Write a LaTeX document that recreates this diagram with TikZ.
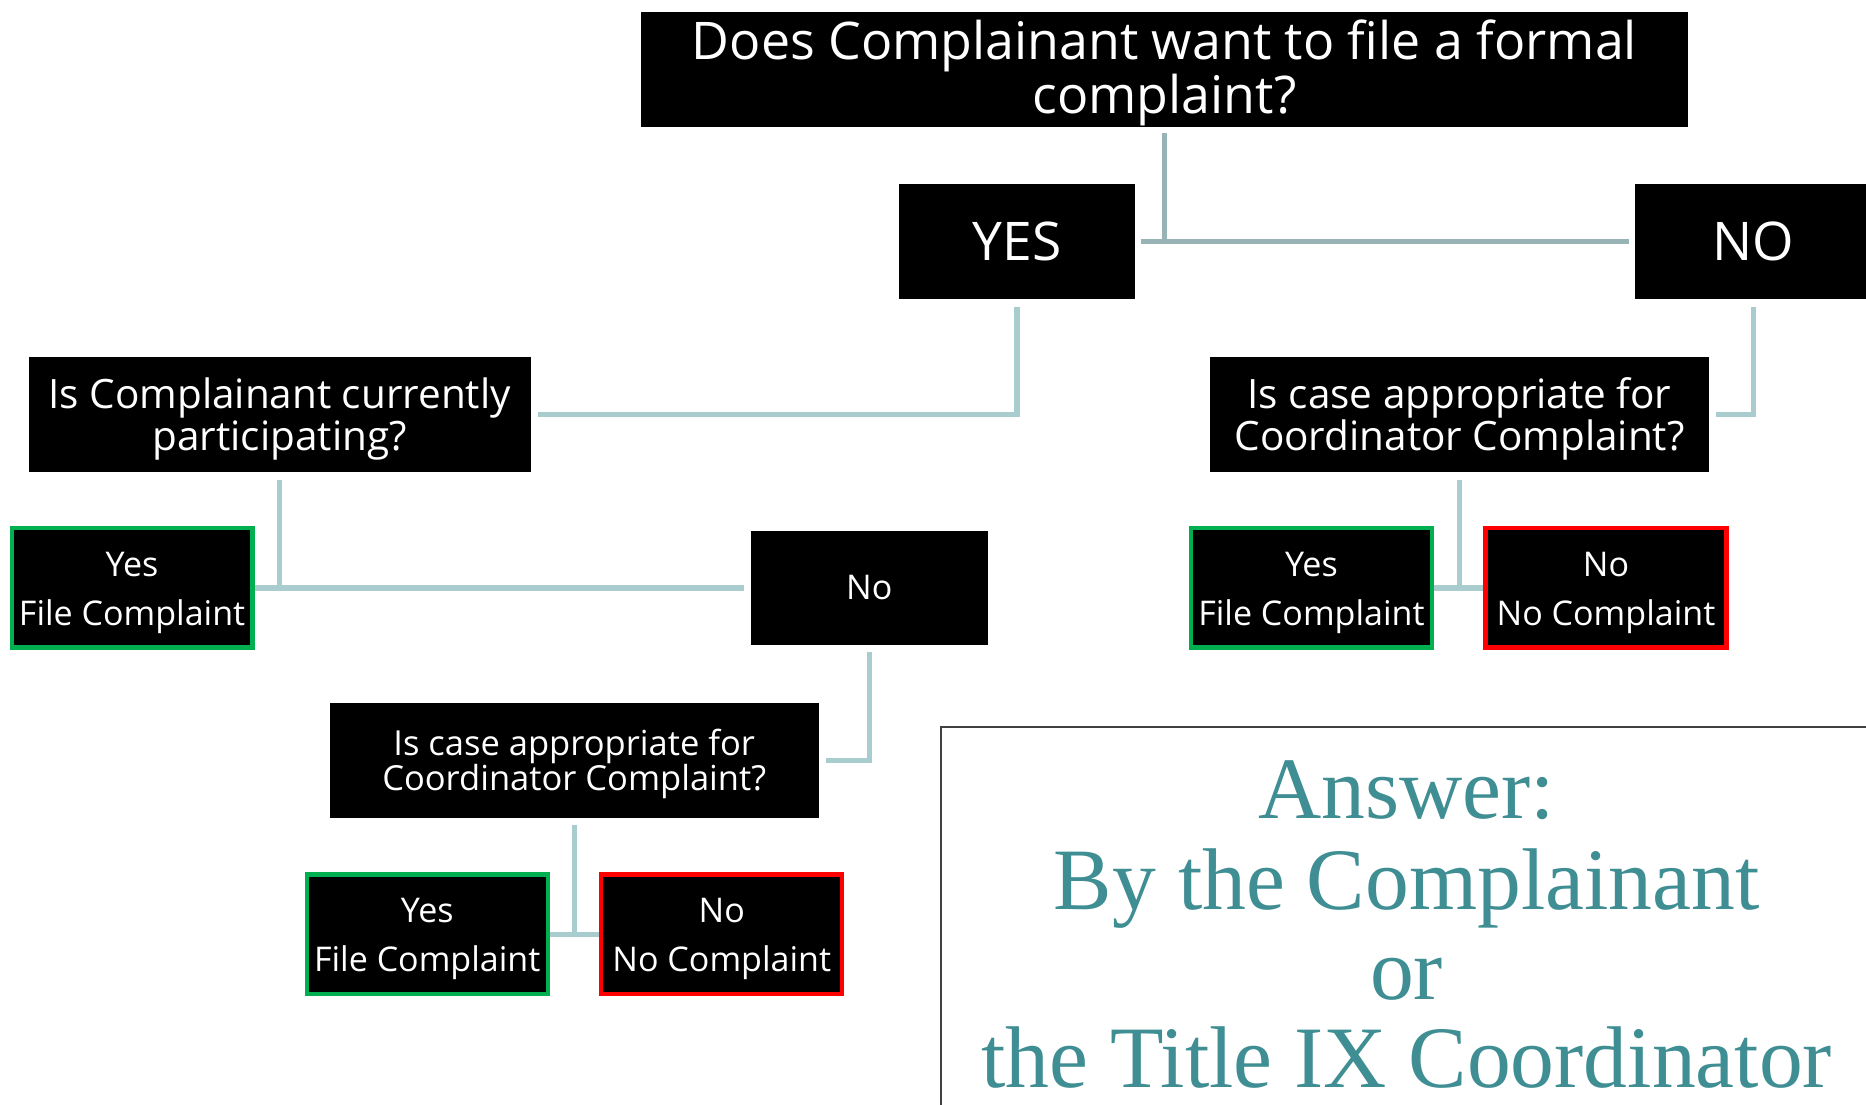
\documentclass[tikz,border=0pt]{standalone}
\usepackage{fontspec}
\setmainfont{Open Sans}
\newfontfamily\ansfont{Liberation Serif}
\definecolor{linkA}{HTML}{97B3B6}
\definecolor{linkB}{HTML}{A9CCCF}
\definecolor{okgreen}{HTML}{00B050}
\definecolor{nored}{HTML}{FF0000}
\definecolor{ansteal}{HTML}{3F8E93}
\definecolor{frame}{HTML}{404040}
\tikzset{
  blackbox/.style={fill=black, text=white, inner sep=0pt, outer sep=0pt, align=center},
  boxtext/.style={text=white, inner sep=0pt, align=center},
  topq/.style={blackbox, minimum width=439.5pt, minimum height=48.5pt},
  toptext/.style={boxtext, yshift=-1.5pt, font=\fontsize{21.8}{21.5}\selectfont},
  yesno/.style={blackbox, minimum width=99.5pt, minimum height=48pt, font=\fontsize{22.4}{22}\selectfont},
  midq/.style={blackbox, minimum height=48.5pt},
  midtext/.style={boxtext, yshift=-1.7pt, font=\fontsize{17}{17.5}\selectfont},
  lowq/.style={blackbox, minimum width=205.5pt, minimum height=48pt},
  lowtext/.style={boxtext, yshift=-1.5pt, font=\fontsize{14.5}{15}\selectfont},
  smallno/.style={blackbox, minimum width=99.5pt, minimum height=48pt, font=\fontsize{14.3}{17}\selectfont},
  leaf/.style={blackbox, minimum width=101.2pt, minimum height=50.2pt, line width=1.8pt},
  leaftext/.style={boxtext, yshift=-2pt, font=\fontsize{14.3}{20.5}\selectfont},
  leafyes/.style={leaf, draw=okgreen},
  leafno/.style={leaf, draw=nored},
  linkone/.style={draw=linkA, line width=2.2pt},
  linktwo/.style={draw=linkB, line width=2.2pt},
  ansline/.style={text=ansteal, inner sep=0pt, anchor=base, font=\ansfont\fontsize{36.8}{37.5}\selectfont},
}
\begin{document}
\begin{tikzpicture}[x=0.5pt,y=-0.5pt]
\useasboundingbox (0,0) rectangle (1568,928);
\fill[white] (0,0) rectangle (1568,928);

% nodes
\node[topq, label={[toptext]center:{Does Complainant want to file a formal\\complaint?}}] (top) at (978.5,58.5) {};
\node[yesno] (yes) at (854.5,203) {YES};
\node[yesno] (no) at (1473.5,203) {NO};
\node[midq, minimum width=211pt, label={[midtext]center:{Is Complainant currently\\participating?}}] (q1) at (235,348.5) {};
\node[midq, minimum width=209.5pt, label={[midtext]center:{Is case appropriate for\\Coordinator Complaint?}}] (q2) at (1226.5,348.5) {};
\node[leafyes, label={[leaftext]center:{Yes\\File Complaint}}] (ly) at (111,494) {};
\node[smallno] (mno) at (730.5,494) {No};
\node[lowq, label={[lowtext]center:{Is case appropriate for\\Coordinator Complaint?}}] (q3) at (482.5,639) {};
\node[leafyes, label={[leaftext]center:{Yes\\File Complaint}}] (by) at (359,785) {};
\node[leafno, label={[leaftext]center:{No\\No Complaint}}] (bn) at (606.5,785) {};
\node[leafyes, label={[leaftext]center:{Yes\\File Complaint}}] (ry) at (1102,494) {};
\node[leafno, label={[leaftext]center:{No\\No Complaint}}] (rn) at (1349.5,494) {};

% connectors
\draw[linkone] ([yshift=-2.5pt]top.south) -- (top.south |- yes.east);
\draw[linkone] ([xshift=2.5pt]yes.east) -- ([xshift=-2.5pt]no.west);
\draw[linktwo] ([yshift=-3.5pt]yes.south) |- ([xshift=3pt]q1.east);
\draw[linktwo] ([yshift=-3.5pt]no.south) |- ([xshift=3pt]q2.east);
\draw[linktwo] ([yshift=-3pt]q1.south) -- (q1.south |- ly.east);
\draw[linktwo] ([xshift=0.9pt]ly.east) -- ([xshift=-3pt]mno.west);
\draw[linktwo] ([yshift=-3pt]mno.south) |- ([xshift=3pt]q3.east);
\draw[linktwo] ([yshift=-3pt]q3.south) -- (q3.south |- by.east);
\draw[linktwo] ([xshift=0.9pt]by.east) -- ([xshift=-0.9pt]bn.west);
\draw[linktwo] ([yshift=-3pt]q2.south) -- (q2.south |- ry.east);
\draw[linktwo] ([xshift=0.9pt]ry.east) -- ([xshift=-0.9pt]rn.west);

% answer panel
\draw[frame, line width=0.9pt] (1590,611) -- (791,611) -- (791,950);
\node[ansline] (a1) at (1182,688) {Answer:};
\node[ansline] (a2) at (1182,764) {By the Complainant};
\node[ansline] (a3) at (1182,840) {or};
\node[ansline] (a4) at (1182,914) {the Title IX Coordinator};
\end{tikzpicture}
\end{document}
